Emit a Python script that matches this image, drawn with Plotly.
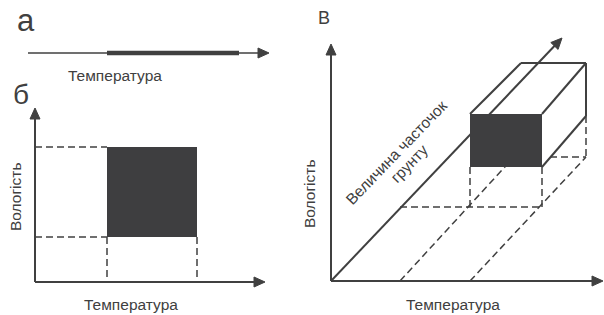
import math
import plotly.graph_objects as go

# ---------------- data (diagram geometry in picture units) ----------------
# Panel а: temperature axis with highlighted interval
a_axis_x = [28, 269]
a_axis_y = 53
a_range_x = [107, 239]

# Panel б: temperature / moisture plane
b_origin = [35, 282]
b_x_tip = 265
b_y_tip = 108
b_temp = [107, 197]
b_moist = [237, 147]

# Panel в: temperature / moisture / particle-size space
v_origin = [331, 281]
v_x_tip = 603
v_y_tip = 44
v_depth_tip = [562, 38]
v_front_x = [470, 542]
v_front_y = [114, 167]
v_back_top_x = [521, 586]
v_back_y = [63, 116]
v_floor_front_y = 207
v_floor_back_y = 157
v_floor_axis_x = [400, 470]
v_floor_back_x = [514, 586]
v_hidden_from_x = 550

labels_small = ["Температура", "Вологість", "Величина часточок", "грунту"]
panel_labels = ["а", "б", "В"]

LINE = "#404040"
FILL = "#3e3e40"
TXT = "#404040"
FONT = "Liberation Sans, Arial, sans-serif"

shapes = []


def line(x0, y0, x1, y1, w=2.0, dash=None, color=LINE):
    d = dict(type="line", xref="x", yref="y", x0=x0, y0=y0, x1=x1, y1=y1,
             line=dict(color=color, width=w))
    if dash:
        d["line"]["dash"] = dash
    shapes.append(d)


def arrow(x0, y0, x1, y1, w=2.0, L=11, H=5):
    dx, dy = x1 - x0, y1 - y0
    n = math.hypot(dx, dy)
    ux, uy = dx / n, dy / n
    bx, by = x1 - ux * L, y1 - uy * L
    line(x0, y0, bx + ux * 1, by + uy * 1, w)
    px, py = -uy, ux
    path = "M{},{} L{},{} L{},{} Z".format(
        x1, y1, bx + px * H, by + py * H, bx - px * H, by - py * H)
    shapes.append(dict(type="path", xref="x", yref="y", path=path,
                       fillcolor=LINE, line=dict(color=LINE, width=1)))


DASH = "7px,4px"

# ---- panel а ----
arrow(a_axis_x[0], a_axis_y, a_axis_x[1], a_axis_y, w=1.5)
line(a_range_x[0], a_axis_y, a_range_x[1], a_axis_y, w=4.5)

# ---- panel б ----
ox, oy = b_origin
line(ox, b_moist[1], b_temp[0], b_moist[1], 1.5, DASH)
line(ox, b_moist[0], b_temp[0], b_moist[0], 1.5, DASH)
line(b_temp[0], b_moist[0], b_temp[0], oy, 1.5, DASH)
line(b_temp[1], b_moist[0], b_temp[1], oy, 1.5, DASH)
shapes.append(dict(type="rect", xref="x", yref="y", x0=b_temp[0], x1=b_temp[1],
                   y0=b_moist[1], y1=b_moist[0], fillcolor=FILL,
                   line=dict(width=0)))
arrow(ox, oy, ox, b_y_tip, 2)
arrow(ox, oy, b_x_tip, oy, 2)

# ---- panel в ----
vx, vy = v_origin
fx0, fx1 = v_front_x
fy0, fy1 = v_front_y
# dashed floor projection
line(v_floor_axis_x[0], vy, v_floor_back_x[0], v_floor_back_y, 1.5, DASH)
line(v_floor_axis_x[1], vy, v_floor_back_x[1], v_floor_back_y, 1.5, DASH)
line(v_floor_axis_x[0], v_floor_front_y, fx1, v_floor_front_y, 1.5, DASH)
line(fx0, fy1, fx0, v_floor_front_y, 1.5, DASH)
line(fx1, fy1, fx1, v_floor_front_y, 1.5, DASH)
line(v_back_top_x[1], v_back_y[1], v_back_top_x[1], v_floor_back_y, 1.5, DASH)
line(v_hidden_from_x, v_floor_back_y, v_back_top_x[1], v_floor_back_y, 1.5, DASH)
# axes
arrow(vx, vy, vx, v_y_tip, 2)
arrow(vx, vy, v_x_tip, vy, 2)
arrow(vx, vy, v_depth_tip[0], v_depth_tip[1], 2)
# box
shapes.append(dict(type="rect", xref="x", yref="y", x0=fx0, x1=fx1,
                   y0=fy0, y1=fy1, fillcolor=FILL, line=dict(width=0)))
line(fx0, fy0, v_back_top_x[0], v_back_y[0], 2)
line(v_back_top_x[0], v_back_y[0], v_back_top_x[1], v_back_y[0], 2)
line(fx1, fy0, v_back_top_x[1], v_back_y[0], 2)
line(v_back_top_x[1], v_back_y[0], v_back_top_x[1], v_back_y[1], 2)
line(fx1, fy1, v_back_top_x[1], v_back_y[1], 2)

# ---------------- text ----------------
ann = []


def text(s, x, y, size=15, angle=0):
    ann.append(dict(text=s, x=x, y=y, xref="x", yref="y", showarrow=False,
                    xanchor="center", yanchor="middle", textangle=angle,
                    font=dict(family=FONT, size=size, color=TXT)))


text(panel_labels[0], 26, 20, 31)
text(panel_labels[1], 21, 94, 28)
text(panel_labels[2], 324, 18, 18)
text(labels_small[0], 115, 75, 15.5)
text(labels_small[0], 131, 304, 15.5)
text(labels_small[0], 453, 304, 15.5)
text(labels_small[1], 15, 197, 15.5, angle=-90)
text(labels_small[1], 309, 194, 15.5, angle=-90)
text(labels_small[2], 396, 152, 15.5, angle=-46)
text(labels_small[3], 409, 163, 15.5, angle=-46)

fig = go.Figure()
fig.add_trace(go.Scatter(x=[0, 604], y=[0, 315], mode="markers",
                         marker=dict(opacity=0), hoverinfo="skip",
                         showlegend=False))
fig.update_layout(
    width=604, height=315, margin=dict(l=0, r=0, t=0, b=0),
    paper_bgcolor="white", plot_bgcolor="white",
    xaxis=dict(range=[0, 604], visible=False, fixedrange=True),
    yaxis=dict(range=[315, 0], visible=False, fixedrange=True),
    shapes=shapes, annotations=ann, showlegend=False,
)
fig.write_html("out.html", config={"displayModeBar": False},
               post_script="document.body.style.margin='0';"
                           "document.body.style.overflow='hidden';")
